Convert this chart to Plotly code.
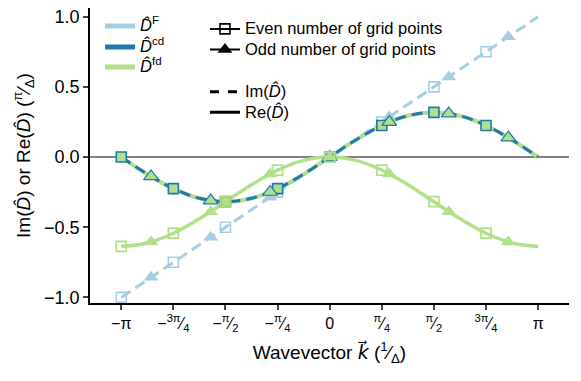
import plotly.graph_objects as go

# wavevector in units of pi (line grid, step 1/8)
k_line = [-1.0, -0.875, -0.75, -0.625, -0.5, -0.375, -0.25, -0.125, 0.0,
          0.125, 0.25, 0.375, 0.5, 0.625, 0.75, 0.875, 1.0]
im_F = [-1.0, -0.875, -0.75, -0.625, -0.5, -0.375, -0.25, -0.125, 0.0,
        0.125, 0.25, 0.375, 0.5, 0.625, 0.75, 0.875, 1.0]
im_cd = [0.0, -0.122, -0.225, -0.294, -0.318, -0.294, -0.225, -0.122, 0.0,
         0.122, 0.225, 0.294, 0.318, 0.294, 0.225, 0.122, 0.0]
re_fd = [-0.637, -0.612, -0.543, -0.440, -0.318, -0.197, -0.093, -0.024, 0.0,
         -0.024, -0.093, -0.197, -0.318, -0.440, -0.543, -0.612, -0.637]

# sample points: even (8) and odd (7) number of grid points
k_even = [-1.0, -0.75, -0.5, -0.25, 0.0, 0.25, 0.5, 0.75]
im_F_even = [-1.0, -0.75, -0.5, -0.25, 0.0, 0.25, 0.5, 0.75]
im_cd_even = [0.0, -0.225, -0.318, -0.225, 0.0, 0.225, 0.318, 0.225]
re_fd_even = [-0.637, -0.543, -0.318, -0.093, 0.0, -0.093, -0.318, -0.543]

k_odd = [-0.857, -0.571, -0.286, 0.0, 0.286, 0.571, 0.857]
im_F_odd = [-0.857, -0.571, -0.286, 0.0, 0.286, 0.571, 0.857]
im_cd_odd = [-0.138, -0.310, -0.249, 0.0, 0.249, 0.310, 0.138]
re_fd_odd = [-0.605, -0.389, -0.120, 0.0, -0.120, -0.389, -0.605]

tick_vals = [-1.0, -0.75, -0.5, -0.25, 0.0, 0.25, 0.5, 0.75, 1.0]
tick_text = ["−π", "−<sup>3π</sup>⁄<sub>4</sub>", "−<sup>π</sup>⁄<sub>2</sub>",
             "−<sup>π</sup>⁄<sub>4</sub>", "0", "<sup>π</sup>⁄<sub>4</sub>",
             "<sup>π</sup>⁄<sub>2</sub>", "<sup>3π</sup>⁄<sub>4</sub>", "π"]

LB = "#a6cee3"
DB = "#1f78b4"
GR = "#b2df8a"
D = "<i>D\u0302</i>"
K = "<span style='font-family:DejaVu Sans'><i>k\u20d7</i></span>"


def big(s):
    # legend rows are spaced by the (small) legend font; the text itself is larger
    return "<span style='font-size:16.5px'>" + s + "</span>"


fig = go.Figure()

# Fourier (exact) derivative
fig.add_trace(go.Scatter(x=k_line, y=im_F, mode="lines", showlegend=False,
                         line=dict(color=LB, width=3, dash="11px,6px")))
fig.add_trace(go.Scatter(x=k_even, y=im_F_even, mode="markers", showlegend=False,
                         marker=dict(symbol="square-open", size=10, color=LB,
                                     line=dict(width=1.6, color=LB))))
fig.add_trace(go.Scatter(x=k_odd, y=im_F_odd, mode="markers", showlegend=False,
                         marker=dict(symbol="triangle-up", size=13, color=LB)))

# forward / central difference, imaginary part
fig.add_trace(go.Scatter(x=k_line, y=im_cd, mode="lines", line_shape="spline",
                         showlegend=False, line=dict(color=GR, width=4)))
fig.add_trace(go.Scatter(x=k_line, y=im_cd, mode="lines", line_shape="spline",
                         showlegend=False,
                         line=dict(color=DB, width=3, dash="11px,6px")))
# forward difference, real part
fig.add_trace(go.Scatter(x=k_line, y=re_fd, mode="lines", line_shape="spline",
                         showlegend=False, line=dict(color=GR, width=3.5)))

fig.add_trace(go.Scatter(x=k_even, y=im_cd_even, mode="markers", showlegend=False,
                         marker=dict(symbol="square", size=10, color=GR,
                                     line=dict(width=1.6, color=DB))))
fig.add_trace(go.Scatter(x=k_odd, y=im_cd_odd, mode="markers", showlegend=False,
                         marker=dict(symbol="triangle-up", size=13, color=GR,
                                     line=dict(width=1.2, color=DB))))
fig.add_trace(go.Scatter(x=k_even, y=re_fd_even, mode="markers", showlegend=False,
                         marker=dict(symbol="square-open", size=10, color=GR,
                                     line=dict(width=1.8, color=GR))))
fig.add_trace(go.Scatter(x=k_odd, y=re_fd_odd, mode="markers", showlegend=False,
                         marker=dict(symbol="triangle-up", size=13, color=GR)))

# legend 1: methods (one small legend per row, to control row spacing)
methods = [(D + "<sup>F</sup>", LB, "legend"),
           (D + "<sup>cd</sup>", DB, "legend4"),
           (D + "<sup>fd</sup>", GR, "legend5")]
for name, col, leg in methods:
    fig.add_trace(go.Scatter(x=[None], y=[None], mode="lines", name=big(name),
                             line=dict(color=col, width=5), legend=leg))
# legend 2: grid points
fig.add_trace(go.Scatter(x=[None], y=[None], mode="lines+markers",
                         name=big("Even number of grid points"), legend="legend2",
                         line=dict(color="black", width=2),
                         marker=dict(symbol="square-open", size=10, color="black",
                                     line=dict(width=1.6, color="black"))))
fig.add_trace(go.Scatter(x=[None], y=[None], mode="lines+markers",
                         name=big("Odd number of grid points"), legend="legend2",
                         line=dict(color="black", width=2),
                         marker=dict(symbol="triangle-up", size=13, color="black")))
# legend 3: line style
fig.add_trace(go.Scatter(x=[None], y=[None], mode="lines", name=big("Im(" + D + ")"),
                         legend="legend3",
                         line=dict(color="black", width=3, dash="9px,9px")))
fig.add_trace(go.Scatter(x=[None], y=[None], mode="lines", name=big("Re(" + D + ")"),
                         legend="legend3", line=dict(color="black", width=3)))

leg_common = dict(bgcolor="rgba(0,0,0,0)", font=dict(size=13.5, color="black"),
                  xanchor="left", yanchor="top", tracegroupgap=0)

# page body has an 8px margin, so the figure is 8px smaller than the window
fig.update_layout(
    width=573, height=373,
    margin=dict(l=82, r=12, t=0, b=78),
    paper_bgcolor="white", plot_bgcolor="white",
    font=dict(family="Liberation Sans, Arial, sans-serif", size=16, color="black"),
    legend=dict(x=0.021, y=0.9908, **leg_common),
    legend4=dict(x=0.021, y=0.9197, **leg_common),
    legend5=dict(x=0.021, y=0.8519, **leg_common),
    legend2=dict(x=0.24, y=0.981, **leg_common),
    legend3=dict(x=0.24, y=0.768, **leg_common),
    xaxis=dict(range=[-1.15, 1.148], tickvals=tick_vals, ticktext=tick_text,
               showgrid=False, zeroline=False, showline=True, linecolor="black",
               linewidth=1.5, ticks="outside", ticklen=5, tickwidth=1.5,
               tickfont=dict(size=16), automargin=False,
               title=dict(text="Wavevector " + K + " (<sup>1</sup>⁄<sub>Δ</sub>)",
                          font=dict(size=19), standoff=12)),
    yaxis=dict(range=[-1.04, 1.062], tickvals=[-1.0, -0.5, 0.0, 0.5, 1.0],
               ticktext=["−1.0", "−0.5", "0.0", "0.5", "1.0"],
               showgrid=False, zeroline=True, zerolinecolor="#808080",
               zerolinewidth=1.5, showline=True, linecolor="black",
               linewidth=1.5, ticks="outside", ticklen=5, tickwidth=1.5,
               tickfont=dict(size=18), automargin=False, ticklabeloverflow="allow",
               title=dict(text="Im(" + D + ") or Re(" + D + ") (<sup>π</sup>⁄<sub>Δ</sub>)",
                          font=dict(size=19), standoff=8)),
)

fig.write_html("out.html")
